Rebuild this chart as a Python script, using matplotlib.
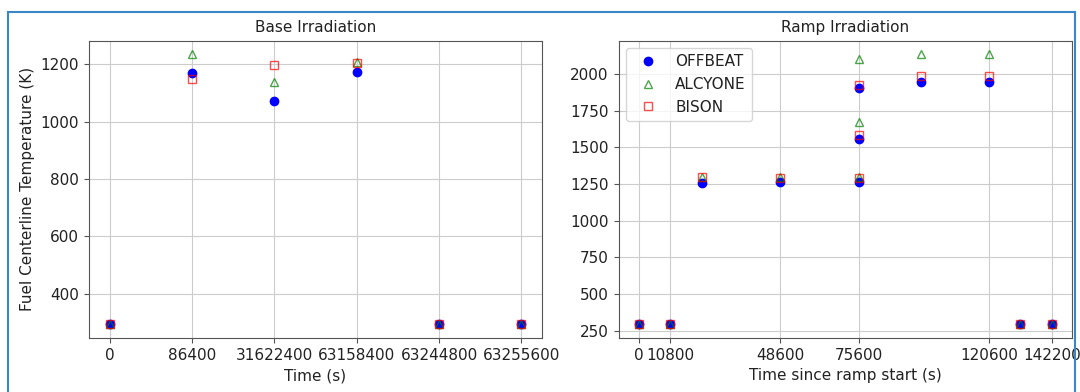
import matplotlib
matplotlib.use("Agg")
import matplotlib.pyplot as plt
from matplotlib.patches import Rectangle

# Base irradiation (categorical time points)
base_times = ["0", "86400", "31622400", "63158400", "63244800", "63255600"]
base_offbeat = [293, 1169, 1073, 1172, 293, 293]
base_alcyone = [293, 1235, 1139, 1207, 293, 293]
base_bison = [293, 1148, 1198, 1203, 293, 293]

# Ramp irradiation (numeric time since ramp start)
ramp_times = [0, 10800, 21600, 48600, 75600, 75600, 75600, 97200, 120600, 131400, 142200]
ramp_offbeat = [293, 293, 1260, 1265, 1265, 1555, 1905, 1942, 1947, 293, 293]
ramp_alcyone = [293, 293, 1300, 1300, 1300, 1673, 2104, 2134, 2134, 293, 293]
ramp_bison = [293, 293, 1295, 1293, 1293, 1583, 1925, 1984, 1984, 293, 293]
ramp_ticks = [0, 10800, 48600, 75600, 120600, 142200]

plt.rcParams.update({
    "font.size": 11,
    "axes.edgecolor": "#555555",
    "grid.color": "#cccccc",
    "xtick.color": "#555555",
    "ytick.color": "#555555",
    "xtick.labelcolor": "#222222",
    "ytick.labelcolor": "#222222",
    "text.color": "#222222",
    "axes.labelcolor": "#222222",
})

fig = plt.figure(figsize=(10.8, 3.92), dpi=100)
ax1 = fig.add_axes([0.0824, 0.1378, 0.4195, 0.7584])
ax2 = fig.add_axes([0.5727, 0.1378, 0.4203, 0.7584])

ms = 6
xpos = list(range(len(base_times)))
ax1.plot(xpos, base_offbeat, "o", color="blue", ms=ms, label="OFFBEAT")
ax1.plot(xpos, base_alcyone, "^", mfc="none", mec="green", alpha=0.7, ms=ms, label="ALCYONE")
ax1.plot(xpos, base_bison, "s", mfc="none", mec="red", alpha=0.7, ms=ms, label="BISON")
ax1.set_xticks(xpos)
ax1.set_xticklabels(base_times)
ax1.set_title("Base Irradiation", fontsize=11)
ax1.set_xlabel("Time (s)")
ax1.set_ylabel("Fuel Centerline Temperature (K)")
ax1.grid(True)

ax2.plot(ramp_times, ramp_offbeat, "o", color="blue", ms=ms, label="OFFBEAT")
ax2.plot(ramp_times, ramp_alcyone, "^", mfc="none", mec="green", alpha=0.7, ms=ms, label="ALCYONE")
ax2.plot(ramp_times, ramp_bison, "s", mfc="none", mec="red", alpha=0.7, ms=ms, label="BISON")
ax2.set_xticks(ramp_ticks)
ax2.set_xticklabels([str(t) for t in ramp_ticks])
ax2.set_title("Ramp Irradiation", fontsize=11)
ax2.set_xlabel("Time since ramp start (s)")
ax2.grid(True)
ax2.legend(loc="upper left")

# screenshot frame
fig.patches.append(Rectangle((8 / 1080, -0.05), (1075 - 8) / 1080, 1 - 12 / 392 + 0.05,
                             transform=fig.transFigure, fill=False,
                             edgecolor="#3a87c8", linewidth=1.5))

fig.savefig("out.png", dpi=100)
